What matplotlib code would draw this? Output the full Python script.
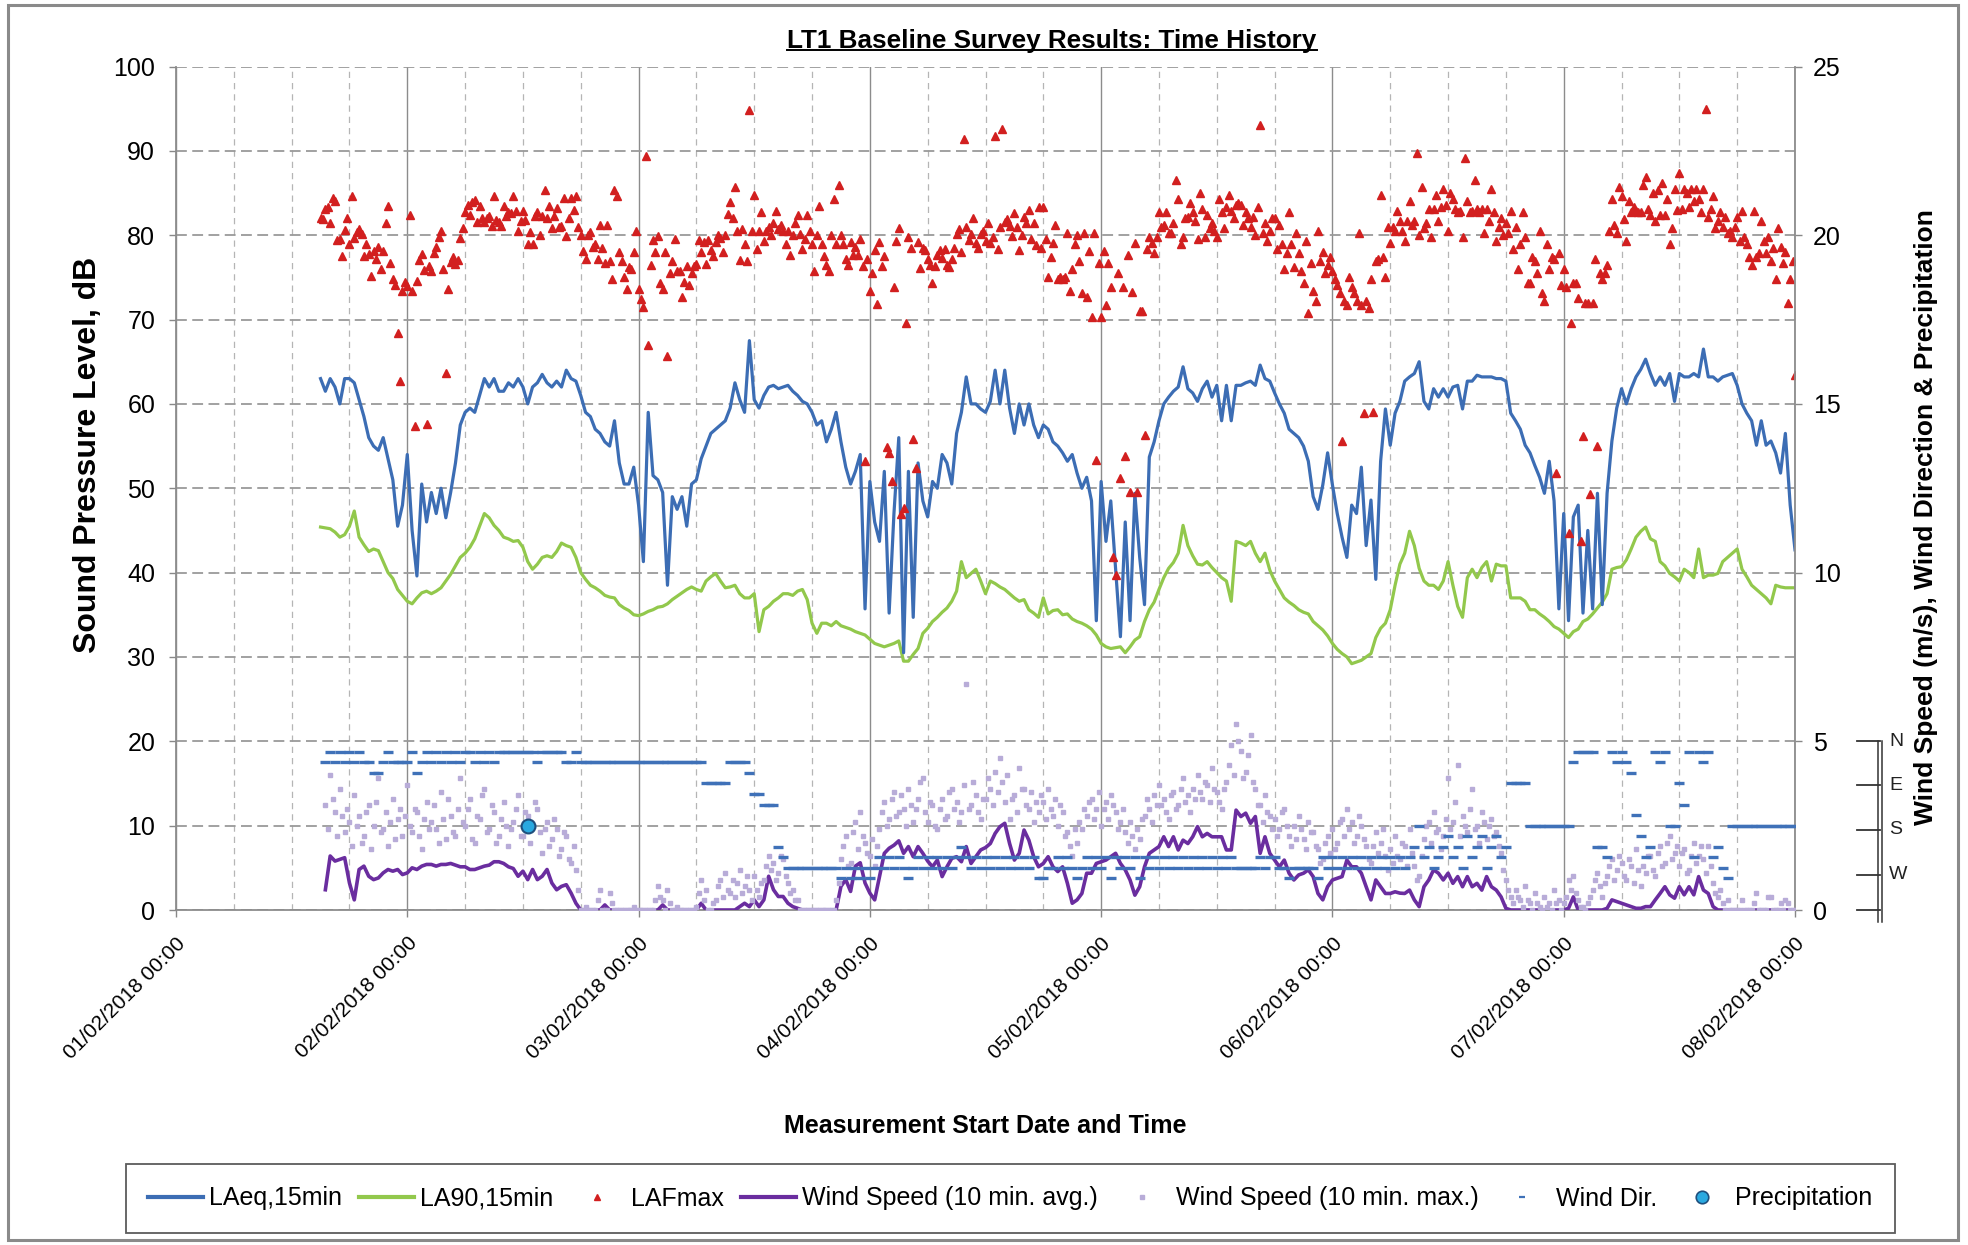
import numpy as np
import pandas as pd
import matplotlib
matplotlib.use("Agg")
import matplotlib.pyplot as plt
import matplotlib.dates as mdates
from matplotlib.lines import Line2D
from matplotlib.patches import Rectangle
from matplotlib.transforms import blended_transform_factory

plt.rcParams['font.family'] = ['Liberation Sans', 'DejaVu Sans']

# ---------------------------------------------------------------- data
noise_start = "2018-02-01 15:00"   # 30-min LAeq / LA90, 15-min LAFmax
wind_start = "2018-02-01 15:30"    # 30-min wind avg / direction, 15-min wind max

laeq = [
    63, 61.5, 63, 62, 60, 63,
    63, 62.5, 60.5, 58.5, 56, 55, 54.5, 56, 53.5, 51, 45.5, 48,
    54, 45, 39.6, 50.5, 46, 49.5, 47, 50, 46.5, 49.5, 53, 57.5,
    59, 59.5, 59, 61, 63, 62, 63, 61.5, 61.5, 62.5, 62, 63,
    62, 60, 62, 62.5, 63.5, 62.5, 62, 62.7, 62, 64, 63, 62.7,
    61, 59, 58.5, 57, 56.5, 55.5, 55, 58, 53, 50.5, 50.5, 52.5,
    48, 41.3, 59, 51.5, 51, 49.5, 38.5, 49, 47.5, 49, 45.5, 50.5,
    51, 53.5, 55, 56.5, 57, 57.5, 58, 59.5, 62.5, 60.5, 59, 67.5,
    60.5, 59.5, 61, 62, 62.2, 61.8, 62, 62.2, 61.5, 61, 60.3, 60,
    59, 57.5, 58, 55.5, 57, 59, 55.5, 52.5, 50.5, 52, 54, 35.7,
    50.8, 46, 43.7, 52, 35.2, 47, 56, 30.5, 52, 34.7, 53, 48.5,
    46.6, 50.8, 50, 54, 53, 50.5, 56.5, 59, 63.2, 60, 60, 59.4,
    59, 60.3, 64, 60, 64, 59.5, 56.5, 60, 57.5, 60, 57.5, 56,
    57.5, 57, 55.5, 55, 54.2, 53.2, 54, 51.8, 50, 51.3, 48.5, 34.3,
    50.8, 43.7, 48.5, 40.4, 32.4, 46, 34.3, 49.4, 41.8, 36.2, 53.7, 55.5,
    58, 60, 60.8, 61.5, 62, 64.4, 61.8, 61.3, 60.3, 61.8, 62.7, 60.8,
    62.2, 58, 62.2, 58, 62.2, 62.2, 62.5, 62.7, 62.2, 64.6, 63, 62.7,
    61.3, 60, 58.9, 57, 56.5, 56, 55, 53.2, 49, 47.5, 50.4, 54.2,
    50.4, 47, 44.2, 41.8, 48, 47, 52.5, 43.2, 48.6, 39.2, 53.2, 59.4,
    55.1, 58.9, 60.3, 62.7, 63.2, 63.6, 65, 60.3, 59.4, 61.8, 60.8, 61.8,
    60.8, 62, 62.2, 59.4, 62.7, 62.7, 63.4, 63.2, 63.2, 63.2, 63, 63,
    62.7, 58.9, 58, 57, 55.1, 54.2, 52.7, 51.3, 49.4, 53.2, 48.5, 35.7,
    47, 34.3, 46.6, 48, 35.2, 45, 35.7, 49.4, 36.2, 49.4, 55.6, 59.5,
    61.8, 60, 61.8, 63.2, 64.1, 65.3, 63.6, 62.2, 63.2, 62.2, 63.6, 60.3,
    63.6, 63.2, 63.2, 63.6, 63.2, 66.5, 63.2, 63.2, 62.7, 63.2, 63.4, 63.6,
    62.2, 60, 58.9, 58, 55.1, 58, 55.1, 55.6, 54.2, 51.8, 56.5, 48,
    42.7,
]

la90 = [
    45.4, 45.3, 45.2, 44.8, 44.2, 44.5,
    45.5, 47.3, 44.2, 43.3, 42.5, 42.8, 42.6, 41.3, 40, 39.3, 38, 37.3,
    36.6, 36.3, 37, 37.6, 37.8, 37.5, 37.8, 38.2, 39, 39.8, 40.8, 41.8,
    42.3, 43, 44, 45.5, 47, 46.5, 45.6, 45, 44.2, 44, 43.7, 43.8,
    43, 41.3, 40.4, 41, 41.8, 42, 41.8, 42.5, 43.5, 43.2, 43, 41.8,
    40, 39.2, 38.5, 38.2, 37.8, 37.3, 37.1, 37, 36.2, 35.8, 35.5, 35,
    34.9, 35.1, 35.4, 35.6, 35.9, 36, 36.3, 36.8, 37.2, 37.6, 38, 38.3,
    38, 37.8, 39, 39.5, 39.9, 39, 38.2, 38.3, 38.5, 37.5, 37, 37,
    37.5, 33, 35.6, 36, 36.6, 37, 37.5, 37.5, 37.3, 37.8, 38, 36.8,
    34, 32.8, 34, 34, 33.7, 34.2, 33.7, 33.5, 33.3, 33, 32.8, 32.6,
    32.1, 31.6, 31.4, 31.2, 31.4, 31.6, 31.9, 29.5, 29.5, 30.3, 31, 32.8,
    33.4, 34.2, 34.7, 35.3, 35.8, 36.6, 37.8, 41.3, 39.4, 39.9, 40.4, 39,
    37.5, 39, 38.7, 38.3, 38, 37.5, 37, 36.6, 36.8, 35.6, 35.2, 34.7,
    37, 35.1, 35.5, 35.6, 35, 35.1, 34.5, 34.2, 34, 33.7, 33.3, 32.6,
    31.6, 31.2, 31, 31.1, 31.2, 30.5, 31.2, 32, 32.4, 34.2, 35.6, 36.5,
    38, 39.4, 40.5, 41.2, 42.3, 45.6, 43.2, 42, 41, 40.9, 41.3, 40.6,
    40, 39.4, 39, 36.6, 43.7, 43.5, 43.2, 43.7, 42.3, 41.3, 42.3, 40.3,
    39, 38, 37, 36.5, 36.1, 35.6, 35.3, 35.1, 34.2, 33.7, 33.2, 32.5,
    31.6, 30.9, 30.4, 30, 29.2, 29.4, 29.6, 30, 30.4, 32.3, 33.4, 34,
    35.6, 38.5, 41, 42.3, 44.9, 43.2, 40.5, 39, 38.5, 38.5, 38, 39,
    41.3, 38.5, 36, 34.7, 39.4, 40.4, 39.4, 40.6, 41.3, 39, 41, 40.8,
    40.8, 37, 37, 37, 36.6, 35.6, 35.6, 35.1, 34.7, 34.2, 33.6, 33.3,
    32.8, 32.3, 33, 33.3, 34.2, 34.5, 35.1, 35.8, 36.5, 37.5, 40.4, 40.6,
    40.7, 41.5, 42.8, 44.2, 44.9, 45.4, 44, 43.7, 41.3, 40.8, 39.9, 39.5,
    39, 40.4, 40, 39.4, 42.8, 39.4, 39.7, 39.7, 39.9, 41.3, 41.8, 42.3,
    42.8, 40.4, 39.5, 38.5, 38, 37.5, 37, 36.3, 38.5, 38.3, 38.2, 38.2,
    38.2,
]

lafmax = [
    82, 81.9, 83.1, 83.4, 81.5, 84.4, 84.1, 79.4, 79.5, 77.5, 80.6, 82,
    79, 84.6, 79.7, 80.4, 80.7, 80.2, 77.5, 78.9, 77.8, 75.2, 78.1, 77.2,
    78.6, 76, 78.1, 81.4, 83.5, 76.7, 74.8, 74.1, 68.4, 62.7, 73.4, 74.4,
    74, 82.4, 73.4, 57.4, 74.6, 77.1, 77.8, 75.9, 57.6, 76.3, 75.8, 77.9,
    78.6, 79.8, 80.5, 76, 63.7, 73.6, 76.8, 77.4, 76.6, 77.1, 79.7, 80.9,
    82.7, 83.6, 82.4, 83.9, 84.2, 81.6, 83.5, 82, 81.6, 82, 82.3, 81.1,
    84.6, 81.8, 81.6, 81.1, 83.5, 82.3, 82.8, 82.6, 84.6, 82.9, 80.5, 81.7,
    82.9, 81.8, 79, 80.4, 79, 82.3, 82.8, 80, 82.3, 85.3, 82, 83.5,
    80.8, 82.3, 83.2, 81, 81.1, 84.4, 79.9, 82, 84.4, 83, 84.6, 81,
    80, 78.1, 77.2, 80, 80.4, 78.6, 79, 77.2, 81.2, 78.5, 76.7, 81.2,
    77, 74.8, 85.3, 84.6, 78, 76.9, 75, 73.6, 76.2, 76, 78, 80.5,
    73.6, 72.4, 71.5, 89.4, 67, 76.5, 79.4, 78, 79.9, 74.3, 73.6, 78,
    65.7, 75.5, 77, 79.5, 75.7, 75.7, 72.7, 74.5, 76.3, 74.1, 75.5, 76.3,
    76.6, 79.4, 78, 79.2, 76.6, 79.4, 78.2, 77.5, 79.2, 80, 79.7, 78,
    80, 82.5, 83.9, 82, 85.7, 80.5, 77.1, 80.7, 79, 77, 94.9, 80.5,
    84.8, 78.4, 80.5, 82.7, 79.3, 80.5, 81, 80, 81.5, 82.9, 80.7, 81.2,
    80.5, 79, 80.5, 77.7, 80, 81.5, 82.4, 80.2, 78.4, 79.5, 82.4, 80.5,
    79, 75.7, 80, 83.5, 79, 77.5, 76.5, 75.7, 80, 84.3, 79, 85.9,
    80, 78.9, 77.2, 76.5, 79.2, 77.7, 78.6, 77.7, 79.5, 76.3, 53.2, 77.2,
    73.4, 75.5, 78.2, 71.8, 79.2, 76.3, 77.5, 54.9, 54.2, 50.9, 73.9, 79.3,
    80.9, 47, 47.7, 69.6, 79.8, 78.5, 55.8, 52.4, 79.2, 76.1, 78.5, 78.2,
    77.2, 76.5, 74.3, 76.3, 77.7, 78.2, 77.3, 78.4, 76.5, 76.2, 77.2, 78.5,
    80.2, 80.7, 78, 91.4, 81, 79.4, 80.1, 82, 79.1, 78.5, 80.2, 80.5,
    79.3, 81.5, 79.1, 79.8, 91.8, 78.4, 81, 92.6, 81.6, 81.9, 81.1, 79.9,
    82.6, 81, 78.2, 80, 82.1, 81.4, 83, 79.6, 81.4, 78.8, 83.3, 78.5,
    83.4, 79.6, 75.1, 77.4, 79.1, 81.2, 74.8, 75.1, 74.8, 75.1, 80.3, 73.4,
    76, 78.9, 80, 77, 73.2, 80.3, 72.7, 78.1, 70.3, 80.3, 53.4, 76.7,
    70.3, 78.1, 71.7, 76.7, 73.9, 41.8, 39.7, 75.5, 51.2, 73.9, 53.8, 77.7,
    49.5, 73.3, 79.1, 49.5, 71, 71, 56.3, 78.4, 79.8, 79.1, 77.9, 79.8,
    82.7, 81, 81.2, 82.7, 80.3, 80.3, 81.5, 86.5, 84.3, 78.9, 79.8, 82,
    82.2, 83.8, 82.7, 81.7, 79.6, 85, 83.1, 79.8, 82.4, 80.8, 81.5, 80.5,
    79.8, 84.3, 82.7, 80.8, 83.4, 84.8, 82.9, 82, 83.6, 83.8, 83.6, 81.2,
    82.7, 82, 81, 82.2, 80, 83.4, 93.1, 80.3, 81.5, 79.3, 80.5, 82,
    82, 78.4, 81.2, 79, 76, 77.9, 82.7, 78.9, 76.2, 80.3, 77.9, 75.8,
    74.3, 79.3, 70.8, 76.7, 73.4, 72.2, 80.5, 77, 78, 75.5, 76.5, 77.4,
    75.8, 74.8, 74.1, 73.2, 55.6, 72.2, 71.7, 75.1, 73.9, 73.2, 72.2, 80.3,
    71.7, 58.9, 72.2, 71.4, 74.8, 59, 77, 77.2, 84.8, 77.4, 75.1, 81,
    79.1, 81, 80.5, 82.9, 81.7, 80.5, 79.3, 81.7, 84.1, 81.2, 81.7, 89.8,
    80, 85.7, 80.8, 81.5, 83.1, 79.8, 83.1, 84.8, 81.7, 83.4, 85.5, 83.6,
    80.5, 85, 84.3, 83.1, 82.7, 82.9, 79.8, 89.1, 84.1, 82.7, 82.9, 86.5,
    83.1, 82.7, 83.1, 80.3, 83.1, 81.7, 85.5, 82.7, 79.3, 81, 82, 80,
    81.5, 80.3, 82.9, 78.4, 81, 76, 78.9, 82.7, 79.8, 74.3, 74.3, 77.4,
    77, 75.5, 80.5, 73.2, 72.2, 78.9, 76, 77.4, 77.2, 51.8, 77.9, 74.1,
    76, 73.9, 44.7, 69.6, 74.3, 74.3, 72.5, 43.7, 56.2, 72, 72, 49.3,
    72, 77.2, 55, 75.5, 74.8, 75.5, 76.5, 80.5, 84.3, 81.2, 80.3, 85.7,
    84.6, 81.9, 79.3, 84.1, 82.7, 83.4, 82.9, 82.7, 82.7, 86, 86.9, 83.1,
    82.4, 85, 81.7, 85.3, 82.4, 86.2, 82.4, 84.3, 78.9, 80.8, 85.5, 83,
    87.4, 83.1, 85.5, 85, 83.4, 85.5, 84, 85.5, 84.3, 82.8, 85.5, 95,
    82.2, 83.1, 84.6, 80.8, 81.7, 82.7, 81, 82.2, 80.3, 80.5, 79.8, 81,
    82.2, 79.3, 82.9, 79.8, 78.9, 77.4, 76.5, 82.9, 77.4, 77.9, 81.7, 79.3,
    77.9, 79.8, 77, 78.5, 74.8, 80.8, 78.6, 76.7, 78, 72, 74.8, 77,
    63.4,
]

wind_avg = [
    0.6, 1.6, 1.45, 1.5, 1.55,
    0.8, 0.3, 1.2, 1.3, 1.0, 0.9, 0.95, 1.1, 1.2, 1.15, 1.2, 1.05,
    1.1, 1.25, 1.2, 1.3, 1.35, 1.35, 1.3, 1.35, 1.35, 1.38, 1.33, 1.28,
    1.28, 1.2, 1.2, 1.25, 1.3, 1.33, 1.43, 1.43, 1.38, 1.28, 1.23, 1.0,
    1.15, 0.9, 1.2, 0.9, 1.0, 1.2, 0.8, 0.6, 0.7, 0.75, 0.5, 0.2,
    0, 0, 0, 0, 0, 0.15, 0, 0, 0, 0, 0, 0,
    0, 0, 0, 0, 0, 0.15, 0, 0, 0, 0, 0, 0,
    0, 0.2, 0, 0, 0, 0, 0, 0, 0, 0.1, 0.2, 0.1,
    0.3, 0.1, 0.3, 1.0, 0.6, 0.4, 0.4, 0.2, 0.1, 0.05, 0, 0,
    0, 0, 0, 0, 0, 0, 0.7, 0.9, 0.55, 1.3, 1.4, 0.8,
    0.5, 0.3, 0.99, 1.68, 1.83, 1.92, 2.05, 1.68, 1.88, 1.58, 1.88, 1.68,
    1.45, 1.28, 1.48, 0.99, 1.28, 1.53, 1.58, 1.43, 1.88, 1.38, 1.58, 1.78,
    1.85, 1.97, 2.27, 2.47, 2.57, 1.97, 1.48, 1.68, 2.37, 2.07, 1.58, 1.28,
    1.38, 1.58, 1.28, 1.14, 1.28, 0.79, 0.2, 0.3, 0.49, 1.09, 1.09, 1.38,
    1.43, 1.48, 1.58, 1.68, 1.38, 1.19, 0.89, 0.44, 0.69, 1.28, 1.68, 1.78,
    1.88, 2.17, 1.88, 2.17, 1.78, 2.07, 1.97, 2.17, 2.47, 2.17, 2.27, 2.17,
    2.17, 2.17, 1.78, 1.78, 2.96, 2.77, 2.87, 2.57, 2.77, 1.68, 2.17, 1.68,
    1.48, 1.28, 1.48, 1.09, 0.89, 1.04, 1.09, 1.19, 0.99, 0.49, 0.3, 0.69,
    0.89, 0.94, 0.99, 1.48, 1.28, 1.28, 1.09, 0.69, 0.3, 0.89, 0.69, 0.49,
    0.49, 0.54, 0.5, 0.49, 0.59, 0.3, 0.1, 0.69, 0.89, 1.19, 1.09, 0.89,
    1.09, 0.79, 0.99, 0.69, 0.99, 0.69, 0.79, 0.59, 0.99, 0.69, 0.59, 0.39,
    0.05, 0, 0, 0, 0, 0, 0, 0, 0, 0, 0, 0,
    0, 0.05, 0.39, 0, 0, 0, 0, 0, 0, 0.05, 0.3, 0.25,
    0.2, 0.15, 0.1, 0.05, 0.05, 0.1, 0.1, 0.3, 0.49, 0.69, 0.45, 0.35,
    0.69, 0.45, 0.69, 0.45, 0.99, 0.59, 0.49, 0.1, 0, 0, 0, 0,
    0, 0, 0, 0, 0, 0, 0, 0, 0, 0, 0, 0,
    0,
]

wind_max = [
    3.1, 2.4, 4.0, 3.3, 2.9, 2.2, 3.6, 2.8, 2.3, 3.0,
    2.6, 1.9, 3.4, 2.5, 2.8, 2.0, 2.2, 2.9, 3.1, 1.8, 2.5, 3.2,
    3.9, 2.3, 2.4, 2.9, 1.9, 2.6, 3.3, 2.1, 2.7, 3.0, 2.2, 2.8,
    3.7, 2.5, 2.3, 3.0, 2.9, 2.2, 1.8, 2.7, 3.2, 2.4, 2.6, 3.1,
    2.4, 2.0, 3.5, 2.7, 2.1, 3.3, 2.8, 2.3, 2.2, 3.0, 3.9, 2.6,
    2.5, 3.0, 3.3, 2.1, 2.0, 2.8, 2.7, 3.4, 3.6, 2.3, 2.4, 3.1,
    2.9, 2.0, 2.2, 2.7, 3.2, 2.5, 1.9, 2.4, 2.6, 3.0, 3.4, 2.2,
    2.2, 2.9, 2.8, 2.0, 2.5, 3.2, 3.0, 2.3, 1.7, 2.4, 2.6, 1.9,
    2.1, 2.7, 2.4, 1.6, 1.8, 2.3, 2.2, 1.5, 1.4, 1.9, 1.2, 0.6,
    0, 0, 0.1, 0, 0, 0, 0, 0.3, 0.6, 0, 0, 0,
    0.5, 0.2, 0, 0, 0, 0, 0, 0, 0, 0, 0.1, 0,
    0, 0, 0, 0, 0, 0, 0, 0.3, 0.7, 0.4, 0.3, 0,
    0.6, 0.2, 0, 0, 0.1, 0, 0, 0, 0, 0, 0, 0,
    0.1, 0.5, 0.9, 0.3, 0.6, 0, 0, 0.2, 0.3, 0.7, 0.9, 0.4,
    1.1, 0.6, 0.5, 0.9, 0.4, 0.8, 1.2, 0.5, 0.7, 1.0, 0.6, 0.3,
    1.0, 0.6, 0.4, 0.8, 0.9, 1.3, 1.6, 1.2, 1.4, 0.9, 1.1, 1.6,
    1.5, 1.0, 0.8, 0.5, 0.6, 0.3, 0.3, 0, 0, 0, 0, 0,
    0, 0, 0, 0, 0, 0, 0, 0, 0, 0, 0.3, 0.8,
    1.5, 1.9, 2.2, 1.3, 1.4, 2.3, 2.6, 1.8, 2.9, 2.2, 2.0, 1.7,
    1.6, 2.1, 1.3, 1.9, 2.4, 2.9, 3.2, 2.5, 2.7, 3.3, 3.5, 2.8,
    2.9, 3.4, 3.0, 2.5, 3.6, 3.1, 2.6, 3.0, 3.3, 3.8, 3.9, 2.9,
    2.6, 3.2, 3.1, 2.5, 2.4, 3.0, 3.3, 2.7, 2.8, 3.5, 3.6, 3.0,
    3.2, 2.6, 2.9, 3.7, 6.7, 3.0, 3.1, 3.8, 3.4, 2.9, 2.7, 3.3,
    3.3, 3.9, 3.6, 3.1, 4.1, 3.5, 4.5, 3.8, 3.2, 4.0, 2.7, 3.3,
    3.4, 2.9, 4.2, 3.6, 3.6, 3.1, 3.0, 3.5, 2.6, 3.2, 2.9, 3.4,
    3.2, 2.7, 3.6, 3.0, 2.8, 3.3, 2.5, 3.1, 2.9, 2.2, 2.3, 1.9,
    1.6, 2.4, 2.0, 2.6, 2.4, 3.0, 2.8, 3.2, 3.3, 2.7, 3.0, 3.5,
    2.5, 3.0, 3.2, 2.7, 3.4, 3.1, 2.9, 2.4, 2.6, 3.0, 2.3, 2.0,
    2.6, 2.2, 1.8, 2.4, 2.1, 2.7, 2.8, 3.3, 3.0, 2.6, 3.4, 3.1,
    3.7, 3.1, 3.3, 2.9, 2.7, 3.4, 3.5, 3.0, 3.1, 3.6, 3.9, 3.2,
    3.4, 2.9, 3.6, 3.3, 4.0, 3.5, 3.3, 3.8, 3.7, 3.2, 4.2, 3.6,
    3.5, 3.2, 3.0, 3.6, 3.8, 4.3, 4.9, 4.0, 5.5, 5.0, 4.7, 3.9,
    4.1, 4.6, 5.2, 3.8, 3.6, 3.1, 3.1, 2.6, 3.4, 2.9, 2.8, 2.4,
    2.7, 2.2, 2.4, 2.9, 3.0, 2.5, 2.2, 1.9, 2.5, 2.1, 2.8, 2.4,
    2.1, 1.8, 2.6, 2.3, 2.3, 1.9, 1.8, 1.4, 1.5, 2.0, 2.2, 1.7,
    2.4, 1.8, 2.0, 2.6, 2.7, 2.2, 3.0, 2.4, 2.6, 2.0, 2.2, 2.8,
    2.5, 2.1, 1.9, 1.5, 1.4, 1.9, 2.3, 1.7, 2.0, 2.4, 1.6, 1.2,
    1.8, 1.4, 2.2, 1.6, 1.5, 2.0, 1.9, 1.3, 2.4, 1.7, 1.3, 0.9,
    1.0, 1.6, 2.1, 2.5, 2.6, 2.0, 2.9, 2.3, 2.4, 1.8, 2.2, 2.7,
    3.9, 2.4, 2.6, 3.2, 4.3, 2.2, 2.8, 2.5, 2.3, 3.0, 3.6, 2.4,
    2.5, 2.0, 2.9, 2.6, 2.1, 2.5, 2.7, 2.2, 2.3, 1.9, 1.7, 1.2,
    0.9, 0.6, 0.4, 0.2, 0.6, 0.4, 0.3, 0.1, 0.7, 0.3, 0.2, 0,
    0.5, 0.2, 0.1, 0, 0.4, 0.1, 0.2, 0, 0.6, 0.2, 0.3, 0,
    0.2, 0.4, 0.9, 0.6, 1.0, 0.5, 0.3, 0.1, 0.1, 0, 0.2, 0.4,
    0.6, 0.9, 1.1, 0.7, 0.4, 0.8, 1.0, 1.3, 1.5, 0.9, 1.2, 1.6,
    1.4, 1.0, 0.9, 1.5, 1.3, 0.8, 1.8, 1.2, 0.7, 1.3, 1.1, 1.6,
    1.6, 1.2, 1.0, 1.7, 1.9, 1.3, 1.4, 2.0, 2.2, 1.5, 1.7, 1.9,
    1.3, 1.7, 1.8, 1.1, 1.2, 1.6, 2.0, 1.4, 1.6, 1.9, 1.5, 1.1,
    1.9, 1.3, 0.8, 0.5, 0.4, 0.6, 0.2, 0, 0.3, 0, 0, 0,
    0, 0, 0.3, 0, 0, 0, 0, 0.2, 0.5, 0, 0, 0,
    0, 0.4, 0.4, 0, 0, 0, 0.2, 0, 0.3, 0.2, 0, 0,
    0,
]

# wind direction, compass degrees (16-point)
wind_dir = [
    45, 22.5, 45, 22.5, 45,
    22.5, 45, 22.5, 45, 45, 67.5, 67.5, 45, 22.5, 45, 45, 45,
    45, 22.5, 67.5, 45, 22.5, 45, 22.5, 45, 22.5, 45, 22.5, 45,
    22.5, 22.5, 45, 22.5, 45, 22.5, 45, 22.5, 22.5, 22.5, 22.5, 22.5,
    22.5, 22.5, 22.5, 45, 22.5, 22.5, 22.5, 22.5, 22.5, 45, 45, 22.5,
    45, 45, 45, 45, 45, 45, 45, 45, 45, 45, 45, 45,
    45, 45, 45, 45, 45, 45, 45, 45, 45, 45, 45, 45,
    45, 45, 90, 90, 90, 90, 90, 45, 45, 45, 45, 67.5,
    112.5, 112.5, 135, 135, 135, 225, 247.5, 270, 270, 270, 270, 270,
    270, 270, 270, 270, 270, 270, 292.5, 270, 292.5, 270, 292.5, 270,
    292.5, 270, 247.5, 270, 247.5, 270, 247.5, 270, 292.5, 270, 247.5, 270,
    247.5, 270, 247.5, 270, 247.5, 270, 247.5, 225, 247.5, 270, 247.5, 270,
    247.5, 270, 247.5, 270, 247.5, 270, 247.5, 270, 247.5, 270, 247.5, 292.5,
    292.5, 270, 270, 247.5, 270, 247.5, 270, 292.5, 270, 247.5, 270, 247.5,
    270, 247.5, 292.5, 247.5, 270, 247.5, 270, 247.5, 292.5, 247.5, 270, 247.5,
    270, 247.5, 270, 247.5, 270, 247.5, 270, 247.5, 270, 247.5, 270, 247.5,
    270, 247.5, 270, 247.5, 270, 270, 270, 270, 270, 247.5, 270, 247.5,
    247.5, 270, 270, 292.5, 270, 270, 270, 270, 270, 292.5, 247.5, 270,
    247.5, 270, 247.5, 270, 247.5, 270, 247.5, 270, 247.5, 270, 247.5, 270,
    247.5, 270, 247.5, 270, 247.5, 225, 180, 247.5, 225, 270, 247.5, 225,
    202.5, 247.5, 225, 270, 202.5, 247.5, 225, 202.5, 270, 225, 202.5, 247.5,
    225, 90, 90, 90, 90, 180, 180, 180, 180, 180, 180, 180,
    180, 180, 45, 22.5, 22.5, 22.5, 22.5, 225, 225, 247.5, 22.5, 45,
    22.5, 45, 67.5, 157.5, 202.5, 247.5, 225, 22.5, 45, 22.5, 180, 180,
    90, 135, 22.5, 247.5, 22.5, 45, 22.5, 247.5, 225, 270, 292.5, 180,
    180, 180, 180, 180, 180, 180, 180, 180, 180, 180, 180, 180,
    180,
]

precip_time = ["2018-02-02 12:30"]
precip_value = [2.5]

compass_labels = ["N", "E", "S", "W"]
compass_levels = [5.0, 3.7, 2.38, 1.05]

title_text = "LT1 Baseline Survey Results: Time History"
legend_labels = ["LAeq,15min", "LA90,15min", "LAFmax", "Wind Speed (10 min. avg.)",
                 "Wind Speed (10 min. max.)", "Wind Dir.", "Precipitation"]

# ---------------------------------------------------------------- styles
C_LAEQ = "#3c6db4"
C_LA90 = "#92c84c"
C_FMAX = "#d21f1f"
C_WAVG = "#6a2d9f"
C_WMAX = "#b8acd8"
C_WDIR = "#3f71b8"
C_RAIN = "#2aa9e0"
GRID = "#9a9a9a"

t_eq = pd.date_range(noise_start, periods=len(laeq), freq="30min")
t_90 = pd.date_range(noise_start, periods=len(la90), freq="30min")
t_fm = pd.date_range(noise_start, periods=len(lafmax), freq="15min")
t_wa = pd.date_range(wind_start, periods=len(wind_avg), freq="30min")
t_wm = pd.date_range(wind_start, periods=len(wind_max), freq="15min")
t_wd = pd.date_range(wind_start, periods=len(wind_dir), freq="30min")
dir_level = 5.0 * (1.0 - np.asarray(wind_dir) / 360.0)

W, H = 1968, 1245
fig = plt.figure(figsize=(W / 100, H / 100), dpi=100)
ax = fig.add_axes([176 / W, 1 - 910 / H, (1795 - 176) / W, (910 - 66.5) / H])
ax2 = ax.twinx()

# sound levels
ax.plot(t_90, la90, color=C_LA90, lw=2.3, zorder=3)
ax.plot(t_eq, laeq, color=C_LAEQ, lw=2.3, zorder=3)
ax.plot(t_fm, lafmax, ls="none", marker="^", ms=5.2, color=C_FMAX, mec=C_FMAX, zorder=4)

# wind and rain on the secondary axis
ax2.plot(t_wa, wind_avg, color=C_WAVG, lw=2.6, zorder=2)
ax2.plot(t_wm, wind_max, ls="none", marker="s", ms=3.4, color=C_WMAX, mec=C_WMAX, zorder=3)
ax2.plot(t_wd, dir_level, ls="none", marker="_", ms=7.5, mew=2.4, color=C_WDIR, zorder=4)
ax2.plot(pd.to_datetime(precip_time), precip_value, ls="none", marker="o", ms=10,
         mfc=C_RAIN, mec="#1f4f7d", mew=1.5, zorder=5)

# axes ranges / ticks
ax.set_xlim(pd.Timestamp("2018-02-01"), pd.Timestamp("2018-02-08"))
ax.set_ylim(0, 100)
ax2.set_ylim(0, 25)
ax.set_yticks(range(0, 101, 10))
ax2.set_yticks(range(0, 26, 5))
ax.xaxis.set_major_locator(mdates.DayLocator())
ax.xaxis.set_major_formatter(mdates.DateFormatter("%d/%m/%Y %H:%M"))
ax.xaxis.set_minor_locator(mdates.HourLocator(byhour=[6, 12, 18]))

ax.tick_params(axis="x", which="major", labelsize=15, length=5, width=1, color="#888888",
               pad=12, labelrotation=45)
ax.tick_params(axis="x", which="minor", length=0)
plt.setp(ax.get_xticklabels(), ha="right", rotation_mode="anchor")
ax.tick_params(axis="y", labelsize=18, length=5, width=1, color="#888888", pad=10)
ax2.tick_params(axis="y", labelsize=18, length=5, width=1, color="#888888", pad=8)

# grid
ax.grid(axis="y", which="major", color=GRID, ls=(0, (6, 3)), lw=1.3)
ax.grid(axis="x", which="major", color="#8c8c8c", ls="-", lw=1.0)
ax.grid(axis="x", which="minor", color="#b5b5b5", ls=(0, (5, 4)), lw=0.9)
ax.set_axisbelow(True)

for a in (ax, ax2):
    a.spines["top"].set_visible(False)
    for s in ("left", "bottom", "right"):
        a.spines[s].set_color("#8c8c8c")
        a.spines[s].set_linewidth(1.3)
ax.spines["right"].set_visible(False)
ax2.spines["left"].set_visible(False)
ax2.spines["bottom"].set_visible(False)

# wind-direction compass scale beside the secondary axis
tr = blended_transform_factory(ax2.transAxes, ax2.transData)
x_tick0 = (1857 - 176) / (1795 - 176)
x_line = (1880 - 176) / (1795 - 176)
x_lab = (1889 - 176) / (1795 - 176)
for dx in (-0.0011, 0.0011):
    ax2.add_line(Line2D([x_line + dx, x_line + dx], [5.0, -0.35], transform=tr,
                        color="#333333", lw=1.1, clip_on=False))
for lev in compass_levels + [0.0]:
    ax2.add_line(Line2D([x_tick0, x_line], [lev, lev], transform=tr,
                        color="#333333", lw=1.3, clip_on=False))
for lab, lev in zip(compass_labels, compass_levels):
    ax2.text(x_lab, lev, lab, transform=tr, ha="left", va="center", fontsize=14,
             color="#222222", clip_on=False)

# labels
fig.text(88 / W, 1 - 455 / H, "Sound Pressure Level, dB", rotation=90, ha="center",
         va="center", fontsize=23, fontweight="bold")
fig.text(1926 / W, 1 - 517 / H, "Wind Speed (m/s), Wind Direction & Precipitation",
         rotation=90, ha="center", va="center", fontsize=19, fontweight="bold")
fig.text(985 / W, 1 - 1126 / H, "Measurement Start Date and Time", ha="center",
         va="center", fontsize=18, fontweight="bold")
title = fig.text(1052 / W, 1 - 41 / H, title_text, ha="center", va="center",
                 fontsize=18.8, fontweight="bold")

# legend
handles = [
    Line2D([], [], color=C_LAEQ, lw=3),
    Line2D([], [], color=C_LA90, lw=3),
    Line2D([], [], ls="none", marker="^", ms=4, color=C_FMAX),
    Line2D([], [], color=C_WAVG, lw=3),
    Line2D([], [], ls="none", marker="s", ms=3, color=C_WMAX),
    Line2D([], [], ls="none", marker="_", ms=5, mew=1.6, color=C_WDIR),
    Line2D([], [], ls="none", marker="o", ms=9, mfc=C_RAIN, mec="#1f4f7d", mew=1.2),
]
leg = fig.legend(handles, legend_labels, loc="center", ncol=7, mode="expand",
                 bbox_to_anchor=(125.5 / W, 1 - 1236 / H, (1895 - 125.5) / W, 75 / H),
                 bbox_transform=fig.transFigure, fontsize=18, frameon=True,
                 fancybox=False, handlelength=2.2, handletextpad=0.25,
                 columnspacing=0.8, borderpad=0.9, borderaxespad=0)
leg.get_frame().set_edgecolor("#333333")
leg.get_frame().set_linewidth(1.3)

# outer chart border
fig.patches.append(Rectangle((8 / W, 5 / H), (1958 - 8) / W, (1240 - 5) / H,
                             transform=fig.transFigure, fill=False,
                             edgecolor="#8a8a8a", lw=2.2))

# underline for the title
fig.canvas.draw()
bb = title.get_window_extent(fig.canvas.get_renderer())
y_ul = bb.y0 + 0.12 * bb.height
fig.add_artist(Line2D([bb.x0 / W, bb.x1 / W], [y_ul / H, y_ul / H],
                      transform=fig.transFigure, color="black", lw=1.4))

fig.savefig("out.png", dpi=100)
